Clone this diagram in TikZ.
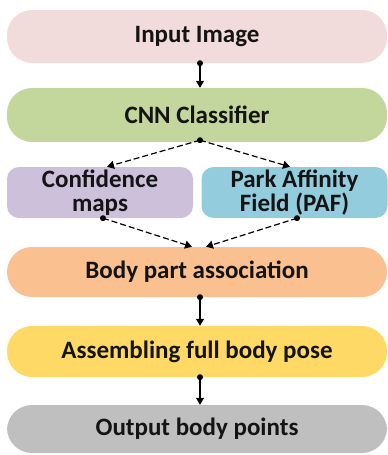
\documentclass[tikz,border=0pt]{standalone}
\usepackage{fontspec}
\setmainfont{Carlito}
\usetikzlibrary{arrows.meta,calc}
\definecolor{cpink}{RGB}{242,220,219}
\definecolor{cgreen}{RGB}{195,214,155}
\definecolor{cpurple}{RGB}{204,192,218}
\definecolor{cblue}{RGB}{147,205,221}
\definecolor{corange}{RGB}{250,192,144}
\definecolor{cyellow}{RGB}{255,217,102}
\definecolor{cgrey}{RGB}{191,191,191}
\definecolor{ctext}{RGB}{20,20,20}
\begin{document}
\begin{tikzpicture}[x=1pt,y=-1pt,
  txt/.style={font=\fontsize{25}{24}\selectfont\bfseries, text=ctext, align=center, inner sep=0pt},
  pill/.style={txt, rectangle, rounded corners=25pt, minimum width=380pt},
  half/.style={txt, rectangle, rounded corners=12pt, minimum width=186pt, minimum height=51pt},
  conn/.style={line width=1.2pt, draw=black, -{Triangle[length=7pt,width=8pt]}},
  dconn/.style={conn, dash pattern=on 6pt off 3pt},
  dot/.style={fill=black}
]
\useasboundingbox (0,0) rectangle (388,455);
\coordinate (col) at (200,0);
\node[pill, fill=cpink, minimum height=53pt] (in) at (197,36.5) {Input Image};
\node[pill, fill=cgreen, minimum height=54pt] (cnn) at (197,115) {CNN Classifier};
\node[half, fill=cpurple] (conf) at (100,192.5) {Confidence\\maps};
\node[half, fill=cblue] (paf) at (294.5,192.5) {Park Affinity\\Field (PAF)};
\node[pill, fill=corange, minimum height=50pt] (body) at (197,272) {Body part association};
\node[pill, fill=cyellow, minimum height=51pt] (asm) at (197,351.5) {Assembling full body pose};
\node[pill, fill=cgrey, minimum height=48pt] (out) at (197,429) {Output body points};

% vertical connectors
\draw[conn] (in.south -| col) -- (cnn.north -| col);
\fill[dot] (in.south -| col) circle (3pt);
\draw[conn] (body.south -| col) -- (asm.north -| col);
\fill[dot] (body.south -| col) circle (3pt);
\draw[conn] (asm.south -| col) -- (out.north -| col);
\fill[dot] (asm.south -| col) circle (3pt);

% diagonal connectors
\coordinate (cs) at ($(cnn.south -| col)+(0,-2)$);
\draw[dconn] (cs) -- ($(conf.north)+(7,0)$);
\draw[dconn] (cs) -- ($(paf.north)+(-4.5,0)$);
\fill[dot] (cs) circle (3pt);
\coordinate (c1) at ($(conf.south)+(3,0)$);
\coordinate (c2) at ($(paf.south)+(2.5,0)$);
\draw[dconn] (c1) -- ($(body.north)+(-5,0)$);
\draw[dconn] (c2) -- ($(body.north)+(9,0)$);
\fill[dot] (c1) circle (3pt);
\fill[dot] (c2) circle (3pt);
\end{tikzpicture}
\end{document}
